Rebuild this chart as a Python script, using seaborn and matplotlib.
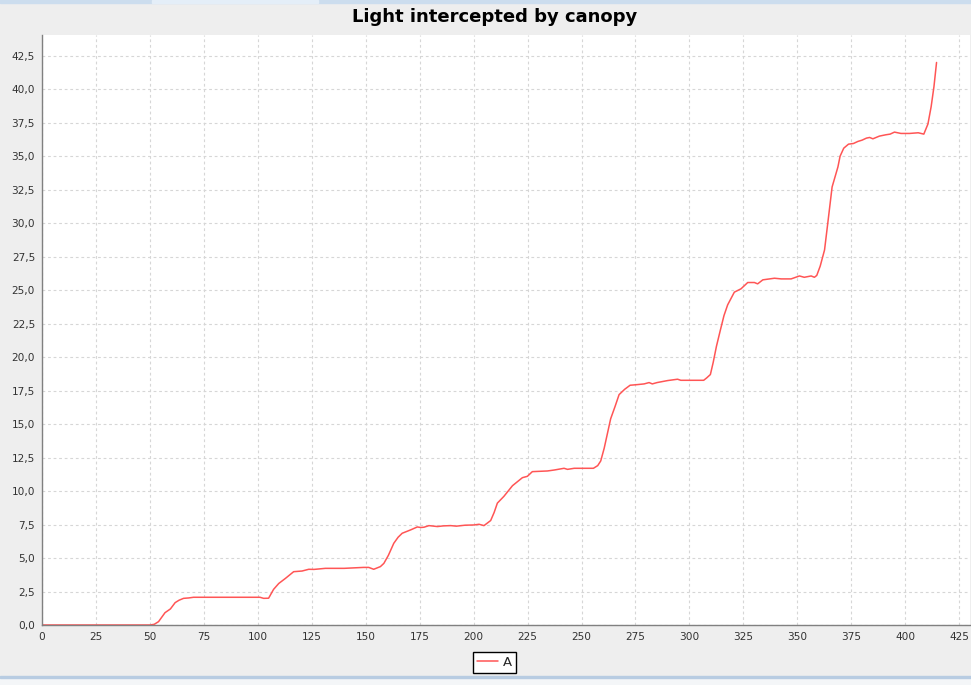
import matplotlib
matplotlib.use("Agg")
import matplotlib.pyplot as plt
import seaborn as sns
import pandas as pd
from matplotlib.ticker import FuncFormatter, MultipleLocator
from matplotlib.patches import Rectangle
from matplotlib.lines import Line2D

# ---- data ----
days = [
    0, 50, 52, 54, 57, 59.5, 61.7, 63.5, 65.6, 68,
    70.2, 80, 90, 101, 102.7, 105, 107.3, 109.7, 112.8, 116.6,
    120.5, 123.6, 126, 131.3, 140, 149, 151.4, 153.7, 156.8, 158.4,
    160.5, 163, 165, 166.9, 170.8, 173.9, 175.5, 177, 179.3, 183.2,
    186, 189.4, 192, 196, 200.2, 202.5, 204.8, 207.9, 209.5, 211,
    214, 218, 220.3, 222.6, 224.9, 227.2, 234.2, 237.3, 241.9, 243.5,
    246.6, 255.5, 257.5, 258.9, 260.5, 262, 263.5, 265.5, 267.4, 270,
    272.5, 276, 279, 281.3, 282.8, 285, 289.9, 294.5, 296, 306.6,
    308, 309.7, 311, 312.5, 314.3, 316, 317.7, 320.8, 323.9, 327,
    330.1, 331.6, 334, 339.4, 342.5, 347.1, 351, 353.2, 356.4, 357.9,
    359, 360.6, 362.6, 364.1, 366.1, 368.8, 369.8, 371.5, 373.7, 376,
    378, 380, 382, 383.5, 385, 388, 391, 393, 395, 398,
    402, 406, 408.6, 410.5, 412, 413.3, 414.5,
]
light_A = [
    0, 0, 0.05, 0.25, 0.92, 1.2, 1.67, 1.85, 1.99, 2.02,
    2.07, 2.07, 2.07, 2.07, 1.99, 2.0, 2.66, 3.1, 3.48, 3.98,
    4.03, 4.16, 4.15, 4.23, 4.23, 4.3, 4.3, 4.16, 4.36, 4.6,
    5.2, 6.1, 6.55, 6.85, 7.1, 7.32, 7.28, 7.3, 7.42, 7.35,
    7.4, 7.42, 7.38, 7.45, 7.47, 7.52, 7.42, 7.8, 8.4, 9.1,
    9.6, 10.4, 10.7, 11.0, 11.1, 11.45, 11.5, 11.57, 11.7, 11.62,
    11.7, 11.7, 11.9, 12.25, 13.2, 14.3, 15.4, 16.3, 17.2, 17.6,
    17.9, 17.95, 18.0, 18.1, 18.0, 18.1, 18.25, 18.35, 18.27, 18.27,
    18.45, 18.7, 19.6, 20.8, 22.0, 23.1, 23.9, 24.85, 25.1, 25.57,
    25.57, 25.47, 25.77, 25.89, 25.84, 25.84, 26.06, 25.96, 26.06, 25.96,
    26.1, 26.8, 28.0, 30.0, 32.7, 34.2, 35.0, 35.6, 35.9, 35.95,
    36.1, 36.2, 36.35, 36.4, 36.3, 36.5, 36.6, 36.65, 36.8, 36.7,
    36.7, 36.75, 36.65, 37.4, 38.7, 40.2, 42.0,
]
series_name = "A"
title = "Light intercepted by canopy"

df = pd.DataFrame({"x": days, "y": light_A})

sns.set_theme(style="white")
plt.rcParams["font.family"] = ["DejaVu Sans"]

W, H = 971, 685
fig = plt.figure(figsize=(W / 100, H / 100), dpi=100, facecolor="#EEEEEE")
ax = fig.add_axes([42 / W, (H - 625) / H, 928 / W, 590 / H])
ax.set_facecolor("white")

sns.lineplot(data=df, x="x", y="y", ax=ax, color="#FF5555", linewidth=1.1,
             label=series_name, legend=False)

ax.set_xlim(0, 430)
ax.set_ylim(0, 44.05)
ax.xaxis.set_major_locator(MultipleLocator(25))
ax.yaxis.set_major_locator(MultipleLocator(2.5))
ax.xaxis.set_major_formatter(FuncFormatter(lambda v, p: f"{v:.0f}"))
ax.yaxis.set_major_formatter(FuncFormatter(lambda v, p: f"{v:.1f}".replace(".", ",")))

ax.grid(True, color="#D6D6D6", linestyle=(0, (2.5, 2.5)), linewidth=0.8)
ax.set_axisbelow(True)
for s in ("top", "right"):
    ax.spines[s].set_visible(False)
for s in ("left", "bottom"):
    ax.spines[s].set_color("#808080")
    ax.spines[s].set_linewidth(1.0)
ax.tick_params(axis="both", direction="out", length=3, width=0.8, color="#808080",
               labelsize=7.6, labelcolor="#333333", pad=2)
ax.set_xlabel("")
ax.set_ylabel("")

fig.text(495 / W, 1 - 17 / H, title, ha="center", va="center",
         fontsize=13, fontweight="bold", color="black")

handle = Line2D([], [], color="#FF5555", linewidth=1.1)
leg = fig.legend([handle], [series_name], loc="center",
                 bbox_to_anchor=(494.5 / W, 1 - 662.5 / H), frameon=True,
                 fancybox=False, edgecolor="black", facecolor="white",
                 fontsize=9.5, handlelength=1.6, handletextpad=0.4,
                 borderpad=0.3, borderaxespad=0)
leg.get_frame().set_linewidth(1.0)
leg.get_frame().set_alpha(1)

# window chrome strips (top and bottom)
fig.add_artist(Rectangle((0, 1 - 3 / H), 1, 3 / H, transform=fig.transFigure,
                         color="#CCDDEE", zorder=0))
fig.add_artist(Rectangle((152 / W, 1 - 3 / H), 166 / W, 3 / H, transform=fig.transFigure,
                         color="#E4EEF8", zorder=0))
fig.add_artist(Rectangle((0, 0), 1, 7 / H, transform=fig.transFigure,
                         color="#F4F6F8", zorder=0))
fig.add_artist(Rectangle((0, 7 / H), 1, 2 / H, transform=fig.transFigure,
                         color="#B8CCE2", zorder=0))

fig.savefig("out.png", dpi=100, facecolor=fig.get_facecolor())
